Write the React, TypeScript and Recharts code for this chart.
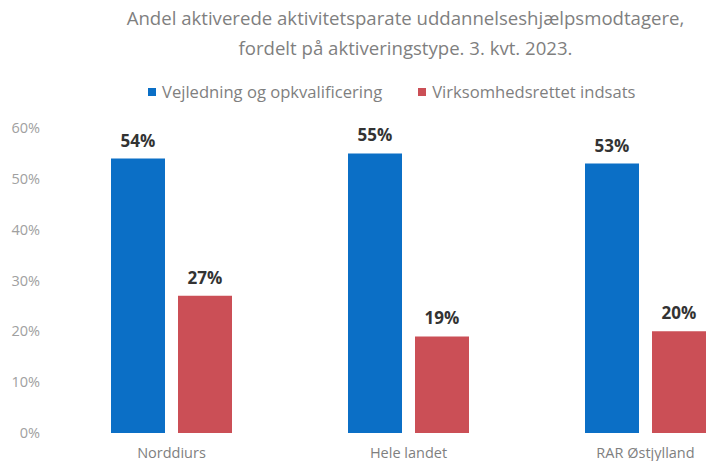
import { BarChart, Bar, XAxis, YAxis, LabelList } from 'recharts';

const categories = ['Norddiurs', 'Hele landet', 'RAR Østjylland'];
const vejledning = [54, 55, 53];
const virksomhed = [27, 19, 20];
const yTicks = [0, 10, 20, 30, 40, 50, 60];

const data = categories.map((name, i) => ({ name, vejledning: vejledning[i], virksomhed: virksomhed[i] }));

const BLUE = '#0B6FC6';
const RED = '#CB4F56';
const FONT = '"Open Sans", "Noto Sans", sans-serif';

export default function App() {
  return (
    <div style={{ position: 'fixed', left: 0, top: 0, width: 706, height: 461, overflow: 'hidden', background: '#FFF', fontFamily: FONT }}>
      <div style={{ position: 'absolute', left: 0, top: 3, width: 811, textAlign: 'center', fontSize: 18.6, lineHeight: '30px', color: '#7F7F7F' }}>
        Andel aktiverede aktivitetsparate uddannelseshjælpsmodtagere,
        <br />
        fordelt på aktiveringstype. 3. kvt. 2023.
      </div>
      <div style={{ position: 'absolute', left: 148, top: 80, display: 'flex', gap: 36, fontSize: 16.6, color: '#7F7F7F', alignItems: 'center' }}>
        <span style={{ display: 'flex', alignItems: 'center' }}>
          <span style={{ width: 8, height: 8, background: BLUE, marginRight: 6, display: 'inline-block' }} />
          Vejledning og opkvalificering
        </span>
        <span style={{ display: 'flex', alignItems: 'center' }}>
          <span style={{ width: 8, height: 8, background: RED, marginRight: 6, display: 'inline-block' }} />
          Virksomhedsrettet indsats
        </span>
      </div>
      <div style={{ position: 'absolute', left: 0, top: 0 }}>
        <BarChart width={764} height={461} data={data} margin={{ top: 128, right: 0, left: 0, bottom: 0 }} barGap={13} barCategoryGap={58}>
          <XAxis dataKey="name" axisLine={false} tickLine={false} height={28} tick={{ fontSize: 14.5, fill: '#7F7F7F', fontFamily: FONT }} tickMargin={9} />
          <YAxis domain={[0, 60]} ticks={yTicks} width={53} axisLine={false} tickLine={false} tickMargin={7} tickFormatter={(v) => `${v}%`} tick={{ fontSize: 14.5, fill: '#A0A0A0', fontFamily: FONT }} />
          <Bar dataKey="vejledning" fill={BLUE} isAnimationActive={false}>
            <LabelList dataKey="vejledning" position="top" offset={12} formatter={(v: number) => `${v}%`} style={{ fontSize: 17, fontWeight: 700, fill: '#333333', fontFamily: FONT }} />
          </Bar>
          <Bar dataKey="virksomhed" fill={RED} isAnimationActive={false}>
            <LabelList dataKey="virksomhed" position="top" offset={12} formatter={(v: number) => `${v}%`} style={{ fontSize: 17, fontWeight: 700, fill: '#333333', fontFamily: FONT }} />
          </Bar>
        </BarChart>
      </div>
    </div>
  );
}
